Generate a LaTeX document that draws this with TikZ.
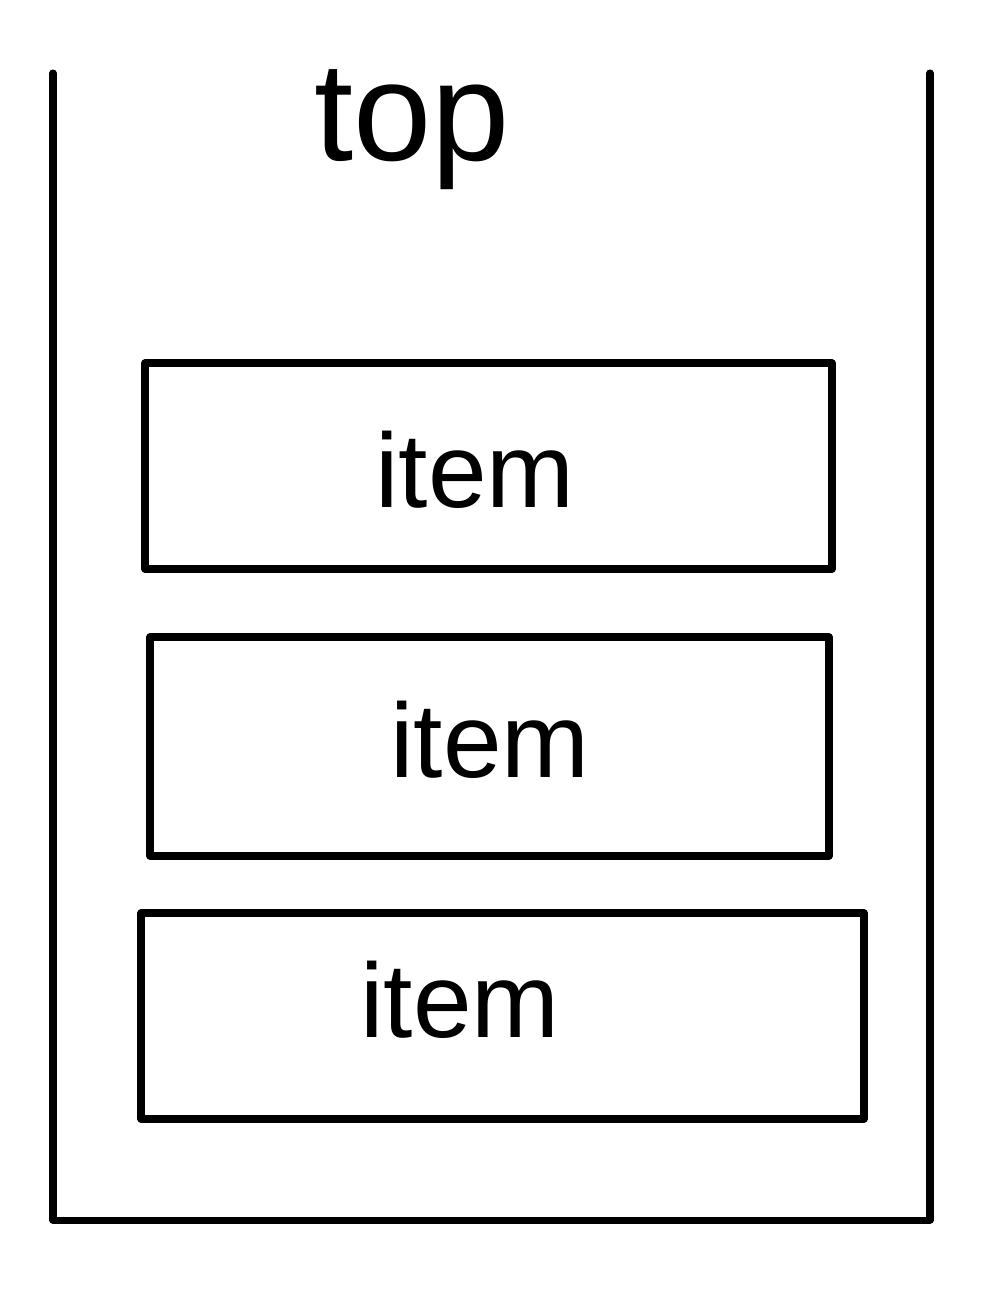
\documentclass[tikz,border=0pt]{standalone}
\usepackage{fontspec}
\setmainfont{Liberation Sans}
\begin{document}
\begin{tikzpicture}[x=0.01cm,y=-0.01cm,
  wall/.style={line width=2pt,line cap=round,line join=round},
  itembox/.style={draw,line width=2pt,line join=round,inner sep=0pt},
  itemtext/.style={font=\fontsize{30}{34}\selectfont},
  toptext/.style={font=\fontsize{40}{46}\selectfont}]
\useasboundingbox (0,0) rectangle (1000,1303);
\coordinate (tl) at (53,73);
\coordinate (bl) at (53,1220);
\coordinate (br) at (930,1220);
\coordinate (tr) at (930,73);
\draw[wall] (tl) -- (bl) -- (br) -- (tr);
\node[toptext] (top) at (412,130) {top};
\draw[itembox] (145,363) rectangle (832,569);
\node[itemtext] (i1) at (475,470) {item};
\draw[itembox] (150,637) rectangle (829,856);
\node[itemtext] (i2) at (490,740) {item};
\draw[itembox] (141,913) rectangle (864,1119);
\node[itemtext] (i3) at (460,1000) {item};
\end{tikzpicture}
\end{document}
